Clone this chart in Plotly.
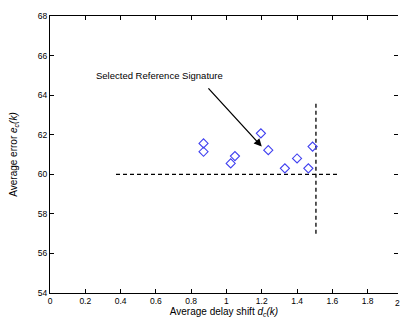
import plotly.graph_objects as go

# Candidate signatures: average delay shift vs. average error
delay_shift = [0.87, 0.87, 1.048, 1.024, 1.195, 1.237, 1.331, 1.40, 1.464, 1.488]
avg_error = [61.56, 61.14, 60.92, 60.55, 62.07, 61.22, 60.30, 60.80, 60.30, 61.40]

# Selected reference signature (arrow target) and label position
selected_x, selected_y = 1.20, 61.40
arrow_tail_x, arrow_tail_y = 0.89, 64.42
label_x, label_y = 0.62, 65.0
label_text = "Selected Reference Signature"

# Threshold guide lines
h_line_x = [0.374, 1.63]
h_line_y = [60.0, 60.0]
v_line_x = [1.507, 1.507]
v_line_y = [57.0, 63.6]

x_max = 1.972
x_ticks = [0, 0.2, 0.4, 0.6, 0.8, 1, 1.2, 1.4, 1.6, 1.8]
x_tick_text = ["0", "0.2", "0.4", "0.6", "0.8", "1", "1.2", "1.4", "1.6", "1.8"]
x_last_tick = 2
y_ticks = [54, 56, 58, 60, 62, 64, 66, 68]

font_family = "Liberation Sans, Arial, sans-serif"
dash_style = "4px,3px"

fig = go.Figure()

fig.add_trace(go.Scatter(
    x=h_line_x, y=h_line_y, mode="lines",
    line=dict(color="black", width=1.3, dash=dash_style),
    showlegend=False, hoverinfo="skip"))
fig.add_trace(go.Scatter(
    x=v_line_x, y=v_line_y, mode="lines",
    line=dict(color="black", width=1.3, dash=dash_style),
    showlegend=False, hoverinfo="skip"))

fig.add_trace(go.Scatter(
    x=delay_shift, y=avg_error, mode="markers",
    marker=dict(symbol="diamond-open", size=7, color="#4040f0",
                line=dict(width=1.1, color="#4040f0")),
    showlegend=False))

# Invisible trace on a right-hand axis so its ticks are drawn without a line
fig.add_trace(go.Scatter(x=[0.5], y=[60], xaxis="x", yaxis="y2", mode="markers",
                         marker=dict(opacity=0), showlegend=False,
                         hoverinfo="skip"))

fig.add_annotation(
    x=selected_x, y=selected_y, ax=arrow_tail_x, ay=arrow_tail_y,
    xref="x", yref="y", axref="x", ayref="y",
    text="", showarrow=True, arrowhead=2, arrowsize=1.2,
    arrowwidth=1.3, arrowcolor="black")
fig.add_annotation(
    x=label_x, y=label_y, xref="x", yref="y", text=label_text,
    showarrow=False, font=dict(size=9.5, color="black", family=font_family))

# Last x tick label sits on the right edge
fig.add_annotation(
    x=1.0, y=0, xref="paper", yref="paper",
    yshift=-3, xshift=4, text=str(x_last_tick), showarrow=False,
    xanchor="right", yanchor="top",
    font=dict(size=8.5, color="black", family=font_family))

fig.update_layout(
    width=401, height=322,
    margin=dict(l=50, r=3, t=16, b=29),
    paper_bgcolor="white", plot_bgcolor="white",
    font=dict(family=font_family, size=8.5, color="black"),
    xaxis=dict(
        range=[0, x_max], tickvals=x_ticks, ticktext=x_tick_text,
        ticks="inside", ticklen=4, tickcolor="black",
        showline=True, linecolor="black", linewidth=1, mirror="ticks",
        showgrid=False, zeroline=False,
        title=dict(text="Average delay shift <i>d<sub>c</sub>(k)</i>",
                   font=dict(size=10), standoff=1),
    ),
    yaxis=dict(
        range=[54, 68], tickvals=y_ticks,
        ticks="inside", ticklen=4, tickcolor="black",
        showline=True, linecolor="black", linewidth=1,
        showgrid=False, zeroline=False,
        title=dict(text="Average error <i>e<sub>c</sub>(k)</i>",
                   font=dict(size=10), standoff=18),
    ),
    yaxis2=dict(
        range=[54, 68], tickvals=y_ticks, overlaying="y", side="right",
        anchor="x", ticks="inside", ticklen=4, tickwidth=1, tickcolor="black",
        showticklabels=False, showline=False, showgrid=False,
        zeroline=False,
    ),
)

fig.write_html("out.html")
